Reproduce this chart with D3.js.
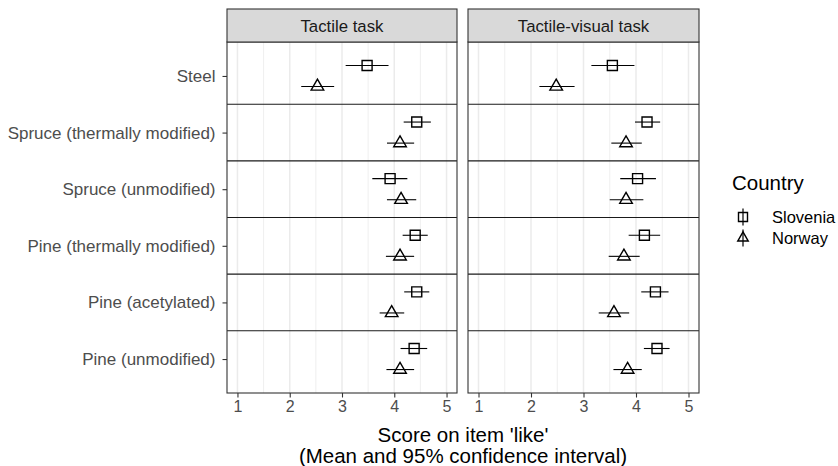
<!DOCTYPE html>
<html>
<head>
<meta charset="utf-8">
<script src="https://cdn.jsdelivr.net/npm/d3@7"></script>
<style>
  html, body { margin: 0; padding: 0; background: #fff; }
  svg { display: block; font-family: "Liberation Sans", Arial, sans-serif; }
</style>
</head>
<body>
<svg id="chart" width="838" height="466"></svg>
<script>
// ---- Data ----
const materials = ["Steel", "Spruce (thermally modified)", "Spruce (unmodified)",
                   "Pine (thermally modified)", "Pine (acetylated)", "Pine (unmodified)"];
const tasks = ["Tactile task", "Tactile-visual task"];
const countries = ["Slovenia", "Norway"];
const xTicks = [1, 2, 3, 4, 5];

// Tactile task
const tactileSloveniaMean = [3.48, 4.43, 3.92, 4.40, 4.43, 4.38];
const tactileSloveniaLow  = [3.07, 4.18, 3.58, 4.16, 4.19, 4.12];
const tactileSloveniaHigh = [3.89, 4.70, 4.25, 4.64, 4.67, 4.63];
const tactileNorwayMean   = [2.53, 4.11, 4.13, 4.11, 3.95, 4.11];
const tactileNorwayLow    = [2.22, 3.86, 3.86, 3.84, 3.72, 3.85];
const tactileNorwayHigh   = [2.85, 4.38, 4.42, 4.38, 4.19, 4.38];
// Tactile-visual task
const visualSloveniaMean  = [3.55, 4.21, 4.03, 4.16, 4.37, 4.40];
const visualSloveniaLow   = [3.15, 3.98, 3.70, 3.86, 4.10, 4.15];
const visualSloveniaHigh  = [3.97, 4.46, 4.38, 4.46, 4.62, 4.64];
const visualNorwayMean    = [2.48, 3.81, 3.81, 3.77, 3.58, 3.84];
const visualNorwayLow     = [2.16, 3.53, 3.50, 3.48, 3.29, 3.57];
const visualNorwayHigh    = [2.83, 4.11, 4.14, 4.07, 3.87, 4.11];

function rows(task, country, mean, low, high) {
  return materials.map((m, i) => ({ task, country, material: m, mean: mean[i], low: low[i], high: high[i] }));
}
const data = [].concat(
  rows(tasks[0], countries[0], tactileSloveniaMean, tactileSloveniaLow, tactileSloveniaHigh),
  rows(tasks[0], countries[1], tactileNorwayMean, tactileNorwayLow, tactileNorwayHigh),
  rows(tasks[1], countries[0], visualSloveniaMean, visualSloveniaLow, visualSloveniaHigh),
  rows(tasks[1], countries[1], visualNorwayMean, visualNorwayLow, visualNorwayHigh)
);

// ---- Layout ----
const svg = d3.select("#chart");
const panelTop = 42, panelBottom = 393, stripTop = 9;
const panels = [{ task: tasks[0], x0: 227, x1: 457 }, { task: tasks[1], x0: 468, x1: 699 }];
const border = "#333333", grey30 = "#4d4d4d";

const y = d3.scalePoint().domain(materials).range([panelTop, panelBottom]).padding(0.6);
const step = y.step();
const dodge = d3.scaleOrdinal().domain(countries).range([-step * 0.186, step * 0.186]);

function triangle(s) {
  const h = s * Math.sqrt(3) / 2;
  return `M0,${-2 * h / 3}L${s / 2},${h / 3}L${-s / 2},${h / 3}Z`;
}

panels.forEach((p, pi) => {
  const x = d3.scaleLinear().domain([0.8, 5.2]).range([p.x0, p.x1]);
  const g = svg.append("g");

  g.append("rect").attr("x", p.x0).attr("y", panelTop).attr("width", p.x1 - p.x0)
    .attr("height", panelBottom - panelTop).attr("fill", "#fff");

  const minor = d3.range(1.5, 5, 1);
  g.selectAll(".minor").data(minor).enter().append("line")
    .attr("x1", d => x(d)).attr("x2", d => x(d))
    .attr("y1", panelTop).attr("y2", panelBottom)
    .attr("stroke", "#ebebeb").attr("stroke-width", 0.8);
  g.selectAll(".major").data(xTicks).enter().append("line")
    .attr("x1", d => x(d)).attr("x2", d => x(d))
    .attr("y1", panelTop).attr("y2", panelBottom)
    .attr("stroke", "#ebebeb").attr("stroke-width", 1.5);

  g.selectAll(".sep").data(materials.slice(0, -1)).enter().append("line")
    .attr("x1", p.x0).attr("x2", p.x1)
    .attr("y1", d => y(d) + step / 2).attr("y2", d => y(d) + step / 2)
    .attr("stroke", "#1a1a1a").attr("stroke-width", 1.1);

  const pd = data.filter(d => d.task === p.task);
  g.selectAll(".err").data(pd).enter().append("line")
    .attr("x1", d => x(d.low)).attr("x2", d => x(d.high))
    .attr("y1", d => y(d.material) + dodge(d.country))
    .attr("y2", d => y(d.material) + dodge(d.country))
    .attr("stroke", "#000").attr("stroke-width", 1.1);
  g.selectAll(".pt").data(pd).enter().append("path")
    .attr("transform", d => `translate(${x(d.mean)},${y(d.material) + dodge(d.country)})`)
    .attr("d", d => d.country === "Slovenia" ? "M-5,-5H5V5H-5Z" : triangle(12.6))
    .attr("fill", "none").attr("stroke", "#000").attr("stroke-width", 1.4);

  g.append("rect").attr("x", p.x0).attr("y", panelTop).attr("width", p.x1 - p.x0)
    .attr("height", panelBottom - panelTop).attr("fill", "none")
    .attr("stroke", border).attr("stroke-width", 1.1);

  g.append("rect").attr("x", p.x0).attr("y", stripTop).attr("width", p.x1 - p.x0)
    .attr("height", panelTop - stripTop).attr("fill", "#d9d9d9")
    .attr("stroke", border).attr("stroke-width", 1.1);
  g.append("text").attr("x", (p.x0 + p.x1) / 2).attr("y", 31.5)
    .attr("text-anchor", "middle").attr("font-size", 16.8).attr("fill", "#1a1a1a")
    .text(p.task);

  const ax = d3.axisBottom(x).tickValues(xTicks).tickSize(4.5).tickPadding(3).tickFormat(d3.format("d"));
  const axg = g.append("g").attr("transform", `translate(0,${panelBottom})`).call(ax);
  axg.select(".domain").remove();
  axg.selectAll(".tick line").attr("stroke", border).attr("stroke-width", 1.1);
  axg.selectAll(".tick text").attr("font-size", 16).attr("fill", grey30)
    .attr("font-family", "Liberation Sans, Arial, sans-serif").attr("dy", "0.71em");

  if (pi === 0) {
    const ay = d3.axisLeft(y).tickSize(4.5).tickPadding(7);
    const ayg = g.append("g").attr("transform", `translate(${p.x0},0)`).call(ay);
    ayg.select(".domain").remove();
    ayg.selectAll(".tick line").attr("stroke", border).attr("stroke-width", 1.1);
    ayg.selectAll(".tick text").attr("font-size", 17).attr("fill", grey30)
      .attr("font-family", "Liberation Sans, Arial, sans-serif");
  }
});

const titleX = (panels[0].x0 + panels[1].x1) / 2;
svg.append("text").attr("x", titleX).attr("y", 441.5).attr("text-anchor", "middle")
  .attr("font-size", 20.5).attr("fill", "#000").text("Score on item 'like'");
svg.append("text").attr("x", titleX).attr("y", 462.5).attr("text-anchor", "middle")
  .attr("font-size", 20.5).attr("fill", "#000").text("(Mean and 95% confidence interval)");

const lg = svg.append("g");
lg.append("text").attr("x", 732).attr("y", 190).attr("font-size", 20.5).attr("fill", "#000").text("Country");
const ly = d3.scalePoint().domain(countries).range([217, 238]);
countries.forEach(c => {
  const cy = ly(c);
  lg.append("line").attr("x1", 743).attr("x2", 743).attr("y1", cy - 8.5).attr("y2", cy + 8.5)
    .attr("stroke", "#000").attr("stroke-width", 1.2);
  lg.append("path").attr("transform", `translate(743,${cy})`)
    .attr("d", c === "Slovenia" ? "M-4.5,-4.5H4.5V4.5H-4.5Z" : triangle(10.5))
    .attr("fill", "none").attr("stroke", "#000").attr("stroke-width", 1.4);
  lg.append("text").attr("x", 772).attr("y", cy).attr("dy", "0.35em")
    .attr("font-size", 16.5).attr("fill", "#000").text(c);
});
</script>
</body>
</html>
